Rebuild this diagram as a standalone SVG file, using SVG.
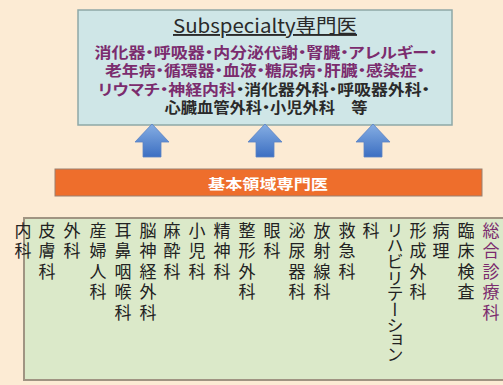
<svg xmlns="http://www.w3.org/2000/svg" width="503" height="385" viewBox="0 0 503 385">
<defs>
<linearGradient id="ag" x1="0" y1="0" x2="0" y2="1">
<stop offset="0" stop-color="#86aee3"/>
<stop offset="1" stop-color="#3c6fc2"/>
</linearGradient>
<style>
.jp{font-family:"Noto Sans CJK JP","Noto Sans",sans-serif;}
.top{font-size:14.8px;font-weight:bold;text-anchor:middle;font-feature-settings:"palt";}
.pur{fill:#7b2c6e;}
.blk{fill:#2a2a2a;}
.col{font-size:17px;fill:#222;writing-mode:vertical-rl;letter-spacing:3.5px;}
.arrow{fill:url(#ag);stroke:#5b83c4;stroke-width:0.8;}
</style>
</defs>
<rect x="0" y="0" width="503" height="385" fill="#fcebd4"/>

<g id="subspecialty">
<rect x="78" y="10" width="374" height="115" fill="#cfe6e7" stroke="#8ea8a6" stroke-width="1.5"/>
<text class="jp blk" x="265" y="33" font-size="19" text-anchor="middle" textLength="184" lengthAdjust="spacingAndGlyphs" text-decoration="underline">Subspecialty専門医</text>
<text class="jp top pur" x="266" y="58" textLength="343" lengthAdjust="spacingAndGlyphs">消化器・呼吸器・内分泌代謝・腎臓・アレルギー・</text>
<text class="jp top pur" x="265" y="76.4" textLength="320" lengthAdjust="spacingAndGlyphs">老年病・循環器・血液・糖尿病・肝臓・感染症・</text>
<text class="jp top" x="264" y="94.8" textLength="332" lengthAdjust="spacingAndGlyphs"><tspan class="pur">リウマチ・神経内科</tspan><tspan class="blk">・消化器外科・呼吸器外科・</tspan></text>
<text class="jp top blk" x="266" y="113.2" textLength="203" lengthAdjust="spacingAndGlyphs">心臓血管外科・小児外科　等</text>
</g>

<g id="connectors">
<path class="arrow" d="M152,124 L169,142 L161,142 L161,157 L143,157 L143,142 L135,142 Z"/>
<path class="arrow" d="M265,124 L282,142 L274,142 L274,157 L256,157 L256,142 L248,142 Z"/>
<path class="arrow" d="M373,124 L390,142 L382,142 L382,157 L364,157 L364,142 L356,142 Z"/>
</g>

<g id="kihon">
<rect x="55" y="169" width="427" height="27" fill="#ee6e2c" stroke="#9a8070" stroke-width="1"/>
<text class="jp" x="268" y="189" font-size="14" font-weight="bold" fill="#ffffff" text-anchor="middle" textLength="120" lengthAdjust="spacingAndGlyphs">基本領域専門医</text>
</g>

<g id="basic-fields">
<rect x="24" y="218" width="485" height="162" fill="#dbe9c9" stroke="#a09482" stroke-width="2"/>
<text class="jp col" x="23" y="222">内科</text>
<text class="jp col" x="47" y="222">皮膚科</text>
<text class="jp col" x="72" y="222">外科</text>
<text class="jp col" x="98" y="222">産婦人科</text>
<text class="jp col" x="123" y="222">耳鼻咽喉科</text>
<text class="jp col" x="148" y="222">脳神経外科</text>
<text class="jp col" x="172" y="222">麻酔科</text>
<text class="jp col" x="197" y="222">小児科</text>
<text class="jp col" x="222" y="222">精神科</text>
<text class="jp col" x="247" y="222">整形外科</text>
<text class="jp col" x="272" y="222">眼科</text>
<text class="jp col" x="297" y="222">泌尿器科</text>
<text class="jp col" x="322" y="222">放射線科</text>
<text class="jp col" x="347" y="222">救急科</text>
<text class="jp col" x="371" y="222">科</text>
<text class="jp col" x="395" y="222" style="letter-spacing:0px;font-feature-settings:'vpal'">リハビリテーション</text>
<text class="jp col" x="418" y="222">形成外科</text>
<text class="jp col" x="441" y="222">病理</text>
<text class="jp col" x="466" y="222">臨床検査</text>
<text class="jp col" x="491" y="222" style="fill:#7b2c6e">総合診療科</text>
</g>
</svg>
